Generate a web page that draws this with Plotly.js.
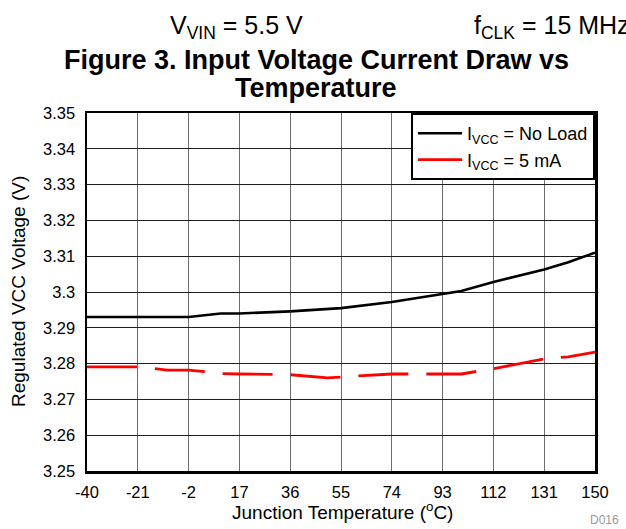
<!DOCTYPE html>
<html><head><meta charset="utf-8">
<script src="https://cdn.plot.ly/plotly-3.0.1.min.js"></script>
<style>html,body{margin:0;padding:0;overflow:hidden;background:#fff}#chart{width:626px;height:529px;overflow:hidden}</style>
</head><body><div id="chart"></div>
<script>
const tempNoLoad = [-40, -21, -2, 10, 17, 27, 36, 55, 74, 100, 112, 131, 140, 150];
const vccNoLoad  = [3.2930, 3.2930, 3.2930, 3.2940, 3.2940, 3.2943, 3.2946, 3.2955, 3.2972, 3.3003, 3.3028, 3.3063, 3.3083, 3.3110];
const temp5mA = [-40, -21, -10, -2, 5, 10, 17, 36, 50, 55, 60, 74, 93, 100, 112, 122, 131, 140, 150];
const vcc5mA  = [3.2791, 3.2791, 3.2782, 3.2782, 3.2777, 3.2772, 3.2771, 3.2769, 3.2760, 3.2763, 3.2765, 3.2771, 3.2771, 3.2771, 3.2786, 3.2800, 3.2813, 3.2819, 3.2832];
const xTicks = [-40, -21, -2, 17, 36, 55, 74, 93, 112, 131, 150];
const yTicks = [3.25, 3.26, 3.27, 3.28, 3.29, 3.30, 3.31, 3.32, 3.33, 3.34, 3.35];
const yTickLabels = ['3.25', '3.26', '3.27', '3.28', '3.29', '3.3', '3.31', '3.32', '3.33', '3.34', '3.35'];
const seriesNames = ['I<sub>VCC</sub> = No Load', 'I<sub>VCC</sub> = 5 mA'];

const FONT = 'Liberation Sans, Arial, sans-serif';
const L = 87, R = 31, T = 113, B = 58, W = 626, H = 529;
const pw = W - L - R, ph = H - T - B;
const px = x => (x - L) / pw;
const py = y => (H - B - y) / ph;

const traces = [
  {x: tempNoLoad, y: vccNoLoad, name: seriesNames[0], mode: 'lines',
   line: {color: '#000000', width: 2.6}},
  {x: temp5mA, y: vcc5mA, name: seriesNames[1], mode: 'lines',
   line: {color: '#ff0000', width: 2.8, dash: '50px,18px'}}
];

const layout = {
  width: W, height: H,
  margin: {l: L, r: R, t: T, b: B, pad: 0},
  paper_bgcolor: '#ffffff', plot_bgcolor: '#ffffff',
  font: {family: FONT, color: '#000000', size: 16},
  showlegend: true,
  legend: {x: 1, y: 1, xanchor: 'right', yanchor: 'top', bgcolor: '#ffffff',
           bordercolor: '#000000', borderwidth: 2, itemwidth: 44,
           font: {family: FONT, size: 18, color: '#000'}},
  xaxis: {range: [-40, 150], tickmode: 'array', tickvals: xTicks, ticktext: xTicks.map(String),
          showgrid: true, gridcolor: '#6e6e6e', gridwidth: 1, zeroline: false,
          showline: true, linecolor: '#000', linewidth: 2.5, mirror: true, ticks: '',
          ticklabelstandoff: 5, tickfont: {size: 16.5}},
  yaxis: {range: [3.25, 3.35], tickmode: 'array', tickvals: yTicks, ticktext: yTickLabels,
          showgrid: true, gridcolor: '#1e1e1e', gridwidth: 1, zeroline: false,
          showline: true, linecolor: '#000', linewidth: 2.5, mirror: true, ticks: '',
          ticklabelstandoff: 6, tickfont: {size: 16.5}},
  annotations: [
    {text: 'V<sub>VIN</sub> = 5.5 V', xref: 'paper', yref: 'paper', x: px(236), y: py(27),
     xanchor: 'center', yanchor: 'middle', showarrow: false, font: {size: 25}},
    {text: 'f<sub>CLK</sub> = 15 MHz', xref: 'paper', yref: 'paper', x: px(472), y: py(27),
     xanchor: 'left', yanchor: 'middle', showarrow: false, font: {size: 25}},
    {text: '<b>Figure 3. Input Voltage Current Draw vs</b>', xref: 'paper', yref: 'paper', x: px(316), y: py(60),
     xanchor: 'center', yanchor: 'middle', showarrow: false, font: {size: 27}},
    {text: '<b>Temperature</b>', xref: 'paper', yref: 'paper', x: px(316), y: py(88),
     xanchor: 'center', yanchor: 'middle', showarrow: false, font: {size: 27}},
    {text: 'Junction Temperature (<sup>o</sup>C)', xref: 'paper', yref: 'paper', x: px(342), y: py(511),
     xanchor: 'center', yanchor: 'middle', showarrow: false, font: {size: 19}},
    {text: 'Regulated VCC Voltage (V)', xref: 'paper', yref: 'paper', x: px(18), y: py(292),
     xanchor: 'center', yanchor: 'middle', showarrow: false, textangle: -90, font: {size: 19}},
    {text: 'D016', xref: 'paper', yref: 'paper', x: px(621), y: py(520),
     xanchor: 'right', yanchor: 'middle', showarrow: false, font: {size: 12, color: '#999999'}}
  ]
};

Plotly.newPlot('chart', traces, layout, {displayModeBar: false, staticPlot: true});
</script></body></html>
